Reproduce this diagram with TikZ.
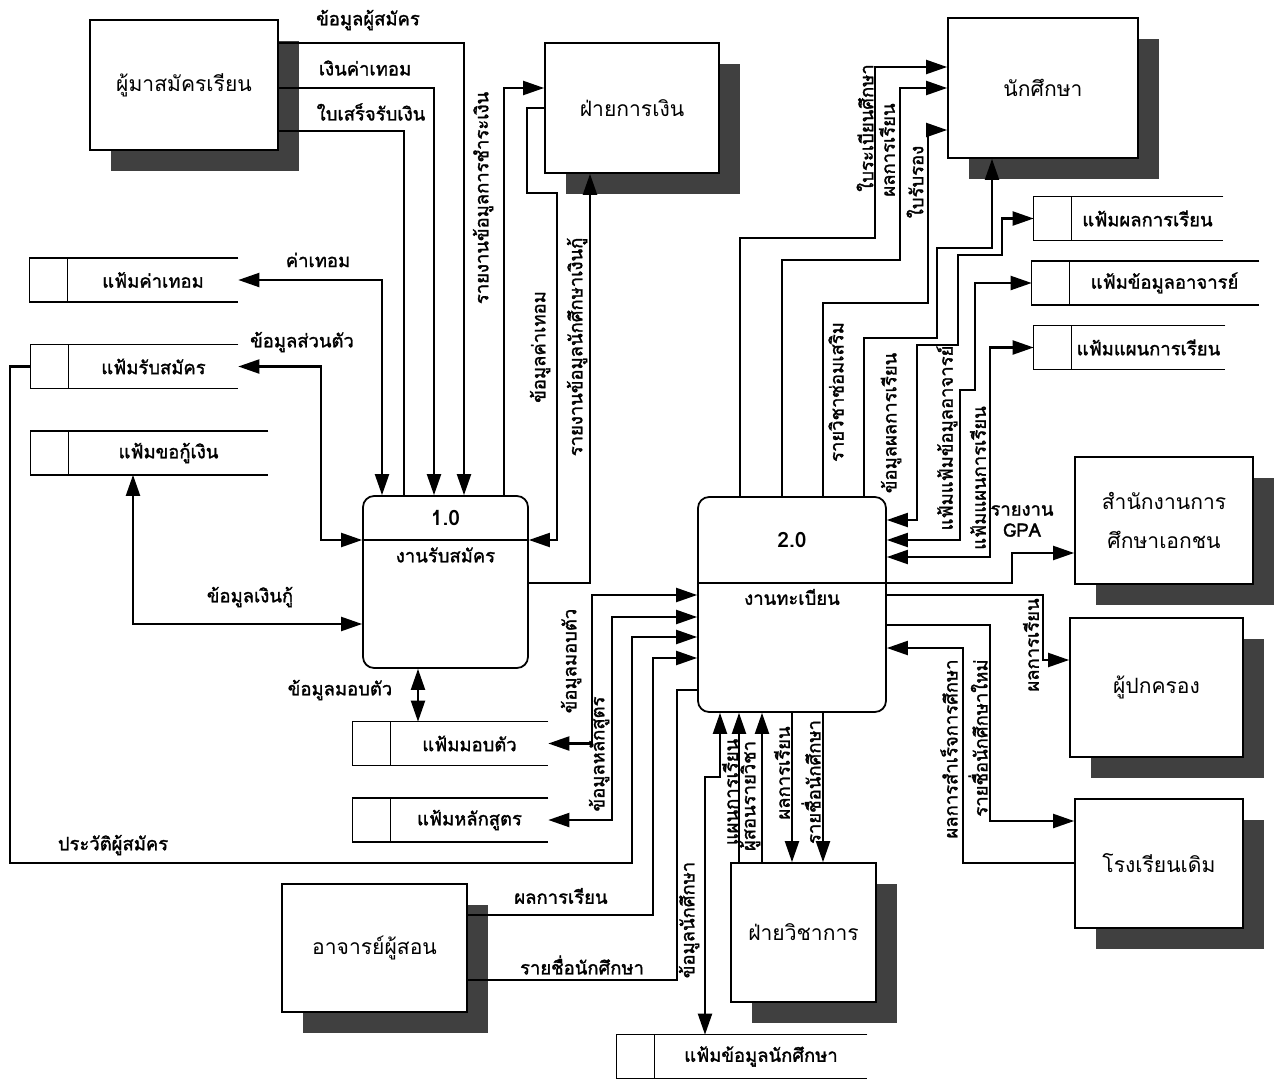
\documentclass[tikz,border=0pt]{standalone}
\usepackage{fontspec}
\setmainfont[Script=Thai]{Loma}
\newfontfamily\lblfont[Script=Thai,FakeBold=1.6]{Loma}
\usetikzlibrary{arrows.meta,shadows}

\begin{document}
\begin{tikzpicture}[x=0.02cm,y=-0.02cm,
  >={Triangle[length=0.42cm,width=0.28cm]},
  entity/.style={draw,fill=white,line width=1pt,align=center,font=\fontsize{12}{22}\selectfont,
    drop shadow={shadow xshift=0.42cm,shadow yshift=-0.42cm,fill=black!75,opacity=1}},
  process/.style={draw,rounded corners=0.22cm,line width=1pt},
  store/.style={inner sep=0pt,minimum height=0.86cm,font=\lblfont\fontsize{10.5}{12}\selectfont},
  flow/.style={->,line width=1.2pt},
  flowtwo/.style={<->,line width=1.2pt},
  plain/.style={line width=1.2pt},
  lbl/.style={font=\lblfont\fontsize{10.5}{12}\selectfont,inner sep=1pt},
  vlbl/.style={lbl,rotate=90}]
\useasboundingbox (0,0) rectangle (1282,1079);

% external entities
\node[entity,minimum width=3.76cm,minimum height=2.6cm] (applicant) at (184,85) {ผู้มาสมัครเรียน};
\node[entity,minimum width=3.48cm,minimum height=2.6cm] (finance) at (632,108) {ฝ่ายการเงิน};
\node[entity,minimum width=3.8cm,minimum height=2.8cm] (student) at (1043,88) {นักศึกษา};
\node[entity,minimum width=3.56cm,minimum height=2.54cm] (office) at (1164,520.5) {สำนักงานการ\\ศึกษาเอกชน};
\node[entity,minimum width=3.46cm,minimum height=2.78cm] (parent) at (1156.5,687.5) {ผู้ปกครอง};
\node[entity,minimum width=3.36cm,minimum height=2.58cm] (oldschool) at (1159,863.5) {โรงเรียนเดิม};
\node[entity,minimum width=3.7cm,minimum height=2.56cm] (teacher) at (374.5,948) {อาจารย์ผู้สอน};
\node[entity,minimum width=2.9cm,minimum height=2.78cm] (academic) at (803.5,932.5) {ฝ่ายวิชาการ};

% processes
\node[process,minimum width=3.3cm,minimum height=3.44cm] (p1) at (445.5,582) {};
\draw[line width=1pt] (p1.west |- 0,540) -- (p1.east |- 0,540);
\node[lbl,font=\bfseries\fontsize{12}{14}\selectfont] (p1id) at (445.5,518) {1.0};
\node[lbl] (p1name) at (445.5,555) {งานรับสมัคร};

\node[process,minimum width=3.76cm,minimum height=4.3cm] (p2) at (792,604.5) {};
\draw[line width=1pt] (p2.west |- 0,583) -- (p2.east |- 0,583);
\node[lbl,font=\bfseries\fontsize{12}{14}\selectfont] (p2id) at (792,540) {2.0};
\node[lbl] (p2name) at (792,597) {งานทะเบียน};

% data stores
\node[store,minimum width=3.4cm] (feestore) at (153,280) {แฟ้มค่าเทอม};
\node[store,minimum width=3.38cm] (applystore) at (153.5,366.5) {แฟ้มรับสมัคร};
\node[store,minimum width=3.98cm] (loanstore) at (168.5,453) {แฟ้มขอกู้เงิน};
\node[store,minimum width=3.14cm] (enroll) at (469.5,743.5) {แฟ้มมอบตัว};
\node[store,minimum width=3.14cm] (course) at (469.5,820) {แฟ้มหลักสูตร};
\node[store,minimum width=4.24cm] (studata) at (761,1056.5) {แฟ้มข้อมูลนักศึกษา};
\node[store,minimum width=3.02cm] (gradestore) at (1147.5,218.5) {แฟ้มผลการเรียน};
\node[store,minimum width=3.78cm] (tdata) at (1164.5,283) {แฟ้มข้อมูลอาจารย์};
\node[store,minimum width=3.06cm] (planstore) at (1148.5,347.5) {แฟ้มแผนการเรียน};
\foreach \s in {feestore,applystore,loanstore,enroll,course,studata,gradestore,tdata,planstore}
  \draw[line width=0.9pt] (\s.north east) -- ([xshift=-0.76cm]\s.north west)
    -- ([xshift=-0.76cm]\s.south west) -- (\s.south east) (\s.north west) -- (\s.south west);

% flows of 1.0
\draw[flow] (applicant.east |- 0,43) -| (p1.north -| 464,0);
\draw[flow] (applicant.east |- 0,88) -| (p1.north -| 434,0);
\draw[plain] (applicant.east |- 0,131) -| (p1.north -| 404,0);
\draw[flowtwo] (feestore.east) -| (p1.north -| 382,0);
\draw[flowtwo] (applystore.east) -| (321,540) -- (p1.west |- 0,540);
\draw[flowtwo] (loanstore.south -| 133,0) |- (p1.west |- 0,624);
\draw[flow] (p1.north -| 504,0) |- (finance.west |- 0,88);
\draw[flow] (finance.west |- 0,108) -| (527,193) -| (557,540) -- (p1.east |- 0,540);
\draw[flow] (p1.east |- 0,583) -| (finance.south -| 590,0);
\draw[flowtwo] (p1.south -| 418,0) -- (enroll.north -| 418,0);

% flows into 2.0 from the left
\draw[flowtwo] (enroll.east) -| (592,595) -- (p2.west |- 0,595);
\draw[flowtwo] (course.east) -| (612,617) -- (p2.west |- 0,617);
\draw[flow] ([xshift=-0.76cm]applystore.west) -| (10,863) -| (632,637) -- (p2.west |- 0,637);
\draw[flow] (teacher.east |- 0,915) -| (653,658) -- (p2.west |- 0,658);
\draw[plain] (p2.west |- 0,690) -| (677,980) -- (teacher.east |- 0,980);
\draw[flowtwo] (studata.north -| 705,0) |- (720,777) -- (p2.south -| 720,0);

% flows with academic affairs
\draw[flow] (academic.north -| 739,0) -- (p2.south -| 739,0);
\draw[flow] (academic.north -| 762,0) -- (p2.south -| 762,0);
\draw[flow] (p2.south -| 792,0) -- (academic.north -| 792,0);
\draw[flow] (p2.south -| 823,0) -- (academic.north -| 823,0);

% flows to student and stores on the right
\draw[flow] (p2.north -| 740,0) |- (875,238) |- (student.west |- 0,67);
\draw[flow] (p2.north -| 782,0) |- (900,260) |- (student.west |- 0,88);
\draw[flow] (p2.north -| 823,0) |- (928,303) |- (student.west |- 0,130);
\draw[flow] (p2.north -| 864,0) |- (937,338) |- (992,248) -- (student.south -| 992,0);
\draw[flowtwo] (p2.east |- 0,520) -| (917,345) -| (958,255) -| (1002,218.5) -- ([xshift=-0.76cm]gradestore.west);
\draw[flowtwo] (p2.east |- 0,540) -| (960,390) -| (975,283) -- ([xshift=-0.76cm]tdata.west);
\draw[flowtwo] (p2.east |- 0,557) -| (990,347.5) -- ([xshift=-0.76cm]planstore.west);
\draw[flow] (p2.east |- 0,583) -| (1012,553) -- (office.west |- 0,553);
\draw[flow] (p2.east |- 0,595) -| (1043,660) -- (parent.west |- 0,660);
\draw[flow] (p2.east |- 0,625) -| (990,821) -- (oldschool.west |- 0,821);
\draw[flow] (oldschool.west |- 0,863) -| (963,648) -- (p2.east |- 0,648);

% labels
\node[lbl] at (368,20) {ข้อมูลผู้สมัคร};
\node[lbl] at (365,68) {เงินค่าเทอม};
\node[lbl] at (371,112) {ใบเสร็จรับเงิน};
\node[lbl] at (318,260) {ค่าเทอม};
\node[lbl] at (302,342) {ข้อมูลส่วนตัว};
\node[lbl] at (250,597) {ข้อมูลเงินกู้};
\node[lbl] at (340,690) {ข้อมูลมอบตัว};
\node[lbl] at (113,845) {ประวัติผู้สมัคร};
\node[lbl] at (561,896) {ผลการเรียน};
\node[lbl] at (582,965) {รายชื่อนักศึกษา};
\node[lbl,align=center] at (1022,521) {รายงาน\\GPA};
\node[vlbl] at (483,198) {รายงานข้อมูลการชำระเงิน};
\node[vlbl] at (540,347) {ข้อมูลค่าเทอม};
\node[vlbl] at (577,347) {รายงานข้อมูลนักศึกษาเงินกู้};
\node[vlbl] at (571,661) {ข้อมูลมอบตัว};
\node[vlbl] at (599,754) {ข้อมูลหลักสูตร};
\node[vlbl] at (689,920) {ข้อมูลนักศึกษา};
\node[vlbl] at (730,792) {แผนการเรียน};
\node[vlbl] at (750,796) {ผู้สอนรายวิชา};
\node[vlbl] at (782,773) {ผลการเรียน};
\node[vlbl] at (811,782) {รายชื่อนักศึกษา};
\node[vlbl] at (865,128) {ใบระเบียนศึกษา};
\node[vlbl] at (887,150) {ผลการเรียน};
\node[vlbl] at (915,182) {ใบรับรอง};
\node[vlbl] at (836,392) {รายวิชาซ่อมเสริม};
\node[vlbl] at (891,423) {ข้อมูลผลการเรียน};
\node[vlbl] at (947,438) {แฟ้มแฟ้มข้อมูลอาจารย์};
\node[vlbl] at (978,478) {แฟ้มแผนการเรียน};
\node[vlbl] at (1031,645) {ผลการเรียน};
\node[vlbl] at (949,749) {ผลการสำเร็จการศึกษา};
\node[vlbl] at (978,738) {รายชื่อนักศึกษาใหม่};
\end{tikzpicture}
\end{document}
